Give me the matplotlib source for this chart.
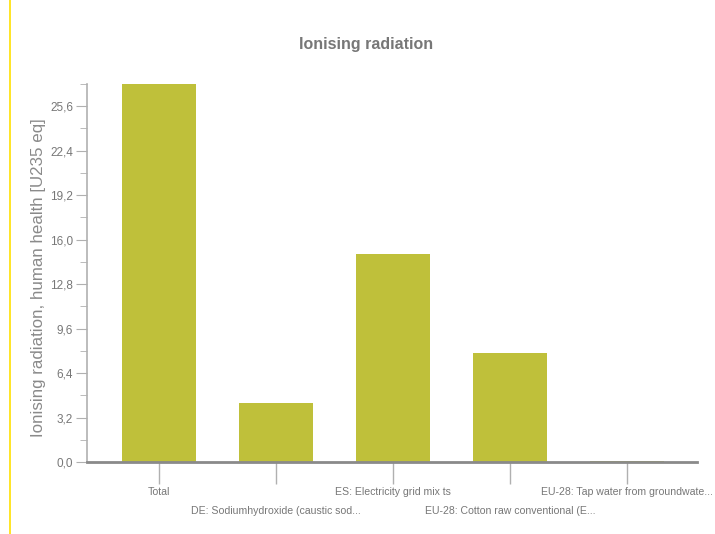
import matplotlib
matplotlib.use("Agg")
import matplotlib.pyplot as plt
from matplotlib.lines import Line2D
from matplotlib.ticker import MultipleLocator, FuncFormatter

categories = ["Total", "DE: Sodiumhydroxide (caustic sod...", "ES: Electricity grid mix ts",
              "EU-28: Cotton raw conventional (E...", "EU-28: Tap water from groundwate..."]
values = [27.2, 4.25, 15.0, 7.85, 0.05]
title = "Ionising radiation"
ylabel = "Ionising radiation, human health [U235 eq]"

plt.rcParams["font.family"] = ["Liberation Sans", "DejaVu Sans"]

gray = "#8a8a8a"
fig = plt.figure(figsize=(7.15, 5.34), dpi=100)
ax = fig.add_axes([0.1217, 0.1348, 0.853, 0.708])
x = list(range(len(categories)))
ax.bar(x, values, width=0.63, color="#bfc03a", zorder=2)
ax.set_xlim(-0.615, 4.6)
ax.set_ylim(0, 27.2)
ax.yaxis.set_major_locator(MultipleLocator(3.2))
ax.yaxis.set_minor_locator(MultipleLocator(1.6))
ax.yaxis.set_major_formatter(FuncFormatter(lambda v, p: f"{v:.1f}".replace(".", ",")))
for s in ["top", "right"]:
    ax.spines[s].set_visible(False)
ax.spines["left"].set_color("#b0b0b0")
ax.spines["left"].set_linewidth(1.2)
ax.spines["bottom"].set_color(gray)
ax.spines["bottom"].set_linewidth(2)
ax.tick_params(axis="y", which="major", length=8, color="#b0b0b0", labelsize=8.5,
               labelcolor="#777777", pad=2)
ax.tick_params(axis="y", which="minor", length=5, color="#b0b0b0")
ax.set_xticks(x)
ax.set_xticklabels([])
ax.tick_params(axis="x", length=16, color="#b0b0b0", width=1)
for i, c in enumerate(categories):
    off = 30 if i % 2 == 0 else 49
    ax.annotate(c, xy=(i, 0), xycoords=("data", "axes fraction"), xytext=(0, -off),
                textcoords="offset pixels", ha="center", va="center",
                fontsize=7.6, color="#777777")
ax.set_ylabel(ylabel, fontsize=12.2, color="#8a8a8a")
ax.yaxis.set_label_coords(-0.067, 0.488)
fig.text(0.512, 0.917, title, ha="center", va="center", fontsize=11.5, fontweight="bold",
         color="#777777")
fig.add_artist(Line2D([10/715, 10/715], [0, 1], color="#ffe000", lw=1.2))
fig.savefig("out.png", dpi=100)
